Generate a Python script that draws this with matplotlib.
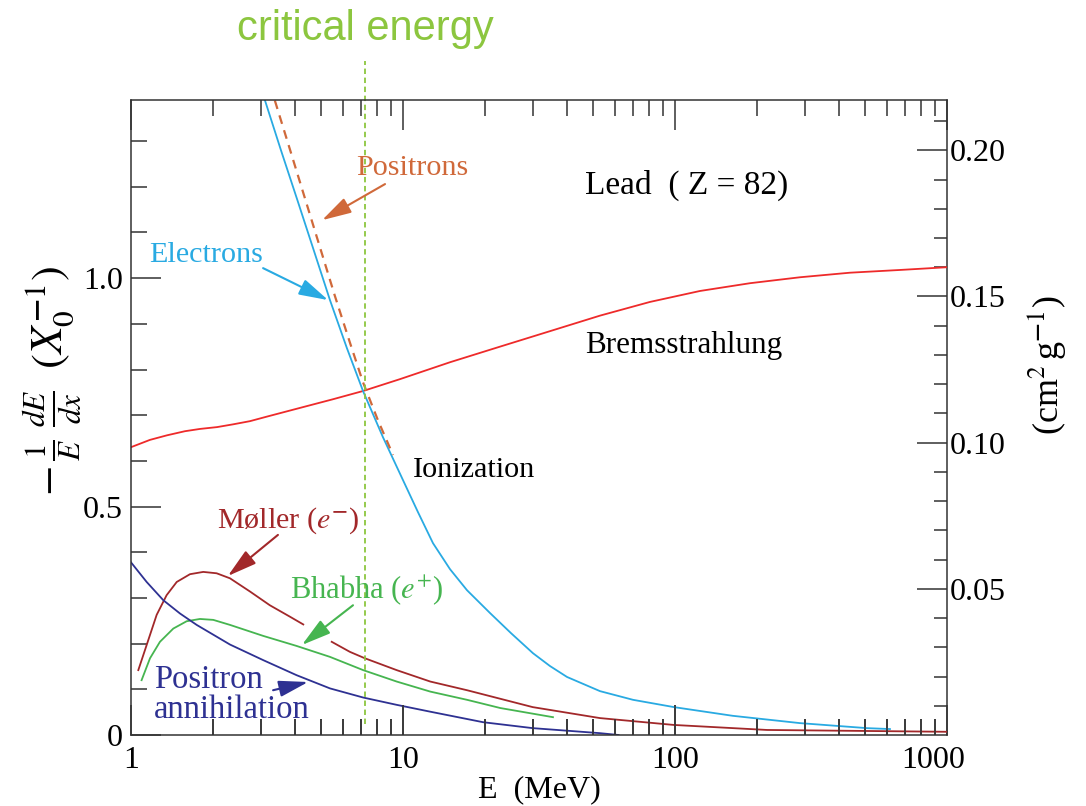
import numpy as np
import matplotlib
matplotlib.use("Agg")
import matplotlib.pyplot as plt
from matplotlib.ticker import LogLocator, NullFormatter, FixedLocator
import matplotlib.transforms as mtransforms

# ---------------- data ----------------
E_ion_e = [3.11, 3.56, 4.08, 4.67, 5.39, 6.22, 7.13, 8.44, 10.0, 11.35, 12.89, 14.89, 17.19,
           20.89, 24.95, 30.06, 34.7, 40.1, 53.0, 70.1, 99.2, 163.0, 288.0, 508.0, 617.0]
ion_e = [1.389, 1.280, 1.173, 1.066, 0.952, 0.847, 0.753, 0.652, 0.558, 0.488, 0.420, 0.363, 0.317,
         0.267, 0.223, 0.179, 0.151, 0.127, 0.096, 0.077, 0.061, 0.042, 0.026, 0.015, 0.013]

E_ion_p = [3.38, 3.84, 4.36, 4.95, 5.62, 6.39, 7.13, 8.09, 9.19]
ion_p = [1.389, 1.282, 1.175, 1.068, 0.961, 0.858, 0.772, 0.689, 0.613]

E_brems = [1.0, 1.174, 1.356, 1.579, 1.794, 2.072, 2.371, 2.738, 3.162, 4.18, 5.53, 7.13, 9.75,
           14.89, 22.7, 34.7, 53.0, 80.9, 123.6, 188.7, 288.0, 440.0, 672.0, 1000.0]
brems = [0.630, 0.646, 0.656, 0.665, 0.670, 0.674, 0.680, 0.687, 0.697, 0.716, 0.735, 0.753, 0.779,
         0.816, 0.850, 0.884, 0.918, 0.948, 0.972, 0.989, 1.002, 1.012, 1.018, 1.024]

E_moller = [1.064, 1.142, 1.243, 1.352, 1.473, 1.648, 1.844, 2.065, 2.312, 2.74, 3.24, 3.84, 4.30,
            4.9, 5.47, 6.38, 7.24, 9.48, 12.6, 17.2, 30.0, 53.0, 99.0, 218.0, 1000.0]
moller = [0.142, 0.197, 0.263, 0.306, 0.335, 0.352, 0.357, 0.354, 0.343, 0.314, 0.284, 0.259, 0.242,
          np.nan, 0.204, 0.182, 0.168, 0.142, 0.117, 0.098, 0.061, 0.037, 0.022, 0.011, 0.007]

E_bhabha = [1.094, 1.175, 1.278, 1.431, 1.602, 1.793, 2.007, 2.312, 3.06, 4.06, 5.39, 7.14, 9.48,
            12.6, 17.2, 22.8, 35.6]
bhabha = [0.120, 0.168, 0.204, 0.233, 0.249, 0.254, 0.252, 0.241, 0.217, 0.195, 0.171, 0.142, 0.117,
          0.095, 0.077, 0.059, 0.039]

E_annih = [1.0, 1.142, 1.315, 1.514, 1.744, 2.312, 3.06, 4.06, 5.39, 7.14, 9.48, 12.6, 19.7, 30.0,
           53.0, 62.0]
annih = [0.378, 0.335, 0.295, 0.266, 0.241, 0.198, 0.164, 0.131, 0.102, 0.082, 0.066, 0.051, 0.028,
         0.015, 0.004, 0.0]

E_critical = 7.25
X0_lead = 6.40  # g/cm^2, converts X0^-1 to cm^2 g^-1

x_ticks = [1, 10, 100, 1000]
x_ticklabels = ["1", "10", "100", "1000"]
yl_ticks = [0, 0.5, 1.0]
yl_ticklabels = ["0", "0.5", "1.0"]
yr_ticks = [0.05, 0.10, 0.15, 0.20]
yr_ticklabels = ["0.05", "0.10", "0.15", "0.20"]

# ---------------- style ----------------
plt.rcParams['font.family'] = ['Liberation Serif', 'DejaVu Serif']
plt.rcParams['mathtext.fontset'] = 'stix'

C_BLUE = '#29aae2'
C_RED = '#ee2a2a'
C_DRED = '#a2282a'
C_GREEN = '#46b550'
C_NAVY = '#2e3192'
C_ORANGE = '#d0693a'
C_CRIT = '#8cc63f'
C_AX = '#333333'

MAJ = 21.6   # 30 px
MIN = 11.5   # 16 px
MIN_R = 9.4  # 13 px
TW = 1.1

RECT = [0.1206, 0.0881, 0.7514, 0.7878]
fig = plt.figure(figsize=(10.86, 8.06), dpi=100)

# right-hand scale on its own overlay axes
ax2 = fig.add_axes(RECT)
ax2.patch.set_visible(False)
ax2.set_ylim(0, 1.39 / X0_lead)
ax2.xaxis.set_visible(False)
for k in ['left', 'top', 'bottom']:
    ax2.spines[k].set_visible(False)
ax2.spines['right'].set_linewidth(1.1)
ax2.spines['right'].set_color(C_AX)
ax2.yaxis.tick_right()
ax2.set_yticks(yr_ticks)
ax2.set_yticklabels(yr_ticklabels)
ax2.set_yticks(np.arange(0.01, 0.215, 0.01), minor=True)
ax2.tick_params(axis='y', which='major', direction='in', length=MAJ, width=TW,
                color=C_AX, labelsize=23, pad=2, left=False, right=True)
ax2.tick_params(axis='y', which='minor', direction='in', length=MIN_R, width=TW, color=C_AX,
                left=False, right=True)
ax2.set_ylabel(r"(cm$^{2}\,$g$^{\mathbf{-}1}$)", fontsize=26, rotation=90)
ax2.yaxis.set_label_position('right')
ax2.yaxis.set_label_coords(0.944, 0.547, transform=fig.transFigure)

# main axes
ax = fig.add_axes(RECT)
ax.patch.set_visible(False)
ax.set_xscale('log')
ax.set_xlim(1, 1000)
ax.set_ylim(0, 1.39)

lw = 1.3
ax.plot(E_brems, brems, color=C_RED, lw=lw)
ax.plot(E_ion_e, ion_e, color=C_BLUE, lw=lw)
ax.plot(E_ion_p, ion_p, color=C_ORANGE, lw=1.6, ls=(0, (4, 3)))
ax.plot(E_moller, moller, color=C_DRED, lw=lw)
ax.plot(E_bhabha, bhabha, color=C_GREEN, lw=lw)
ax.plot(E_annih, annih, color=C_NAVY, lw=lw)

# critical energy line (extends above the axes)
ax.plot([E_critical, E_critical], [0.025, 1.475], color=C_CRIT, lw=1.3,
        ls=(0, (3, 2)), clip_on=False)
ax.text(E_critical, 1.545, "critical energy", color=C_CRIT, fontsize=30,
        family='Liberation Sans', ha='center', va='center', clip_on=False)

ax.set_xlabel("E  (MeV)", fontsize=23, labelpad=0)
ax.set_ylabel(r"$-\,\frac{1}{E}\;\frac{dE}{dx}\;\;(X_0^{\mathbf{-}1})$", fontsize=32)
ax.yaxis.set_label_coords(-0.058, 0.557)

# labels
ax.text(46.7, 1.203, "Lead  ( Z = 82)", fontsize=24, va='center', ha='left')
ax.text(46.7, 0.853, "Bremsstrahlung", fontsize=22.4, va='center', ha='left')
ax.text(10.9, 0.580, "Ionization", fontsize=21.7, va='center', ha='left')

fs2 = 21.7
aprops = dict(arrowstyle='-|>,head_length=0.9,head_width=0.25', lw=1.5, shrinkA=0, shrinkB=0)
ax.text(10.8, 1.241, "Positrons", fontsize=fs2, color=C_ORANGE, ha='center', va='center')
ax.annotate("", xy=(5.04, 1.127), xytext=(8.59, 1.206),
            arrowprops=dict(aprops, color=C_ORANGE, mutation_scale=20))
ax.text(1.886, 1.050, "Electrons", fontsize=fs2, color=C_BLUE, ha='center', va='center')
ax.annotate("", xy=(5.31, 0.952), xytext=(3.06, 1.022),
            arrowprops=dict(aprops, color=C_BLUE, mutation_scale=20))
ax.text(2.07, 0.470, r"Møller ($e^{\mathbf{-}}$)", fontsize=fs2, color=C_DRED, ha='left', va='center')
ax.annotate("", xy=(2.27, 0.348), xytext=(3.47, 0.438),
            arrowprops=dict(aprops, color=C_DRED, mutation_scale=20))
ax.text(3.84, 0.317, r"Bhabha ($e^{+}$)", fontsize=22, color=C_GREEN, ha='left', va='center')
ax.annotate("", xy=(4.25, 0.197), xytext=(6.55, 0.284),
            arrowprops=dict(aprops, color=C_GREEN, mutation_scale=20))
ax.text(1.215, 0.088, "Positron\nannihilation", fontsize=23.5, color=C_NAVY, ha='left',
        va='center', linespacing=1.0)
ax.annotate("", xy=(4.48, 0.116), xytext=(3.33, 0.098),
            arrowprops=dict(aprops, color=C_NAVY, mutation_scale=20))

# ticks (configured last)
ax.spines['right'].set_visible(False)
for k in ['left', 'top', 'bottom']:
    ax.spines[k].set_linewidth(1.1)
    ax.spines[k].set_color(C_AX)
ax.xaxis.set_major_locator(FixedLocator(x_ticks))
ax.set_xticklabels(x_ticklabels)
ax.xaxis.set_minor_locator(LogLocator(base=10, subs=np.arange(2, 10), numticks=20))
ax.xaxis.set_minor_formatter(NullFormatter())
ax.set_yticks(yl_ticks)
ax.set_yticklabels(yl_ticklabels)
ax.set_yticks(np.arange(0, 1.39, 0.1), minor=True)
ax.xaxis.set_ticks_position('both')
ax.yaxis.set_ticks_position('left')
ax.tick_params(axis='both', which='major', direction='in', length=MAJ, width=TW,
               color=C_AX, labelsize=23, pad=6)
ax.tick_params(axis='both', which='minor', direction='in', length=MIN, width=TW, color=C_AX)
ax.tick_params(axis='x', which='major', pad=8, labelbottom=True, labeltop=False)

# shift the "1000" label slightly left as in the reference
lab = ax.get_xticklabels()[-1]
lab.set_transform(lab.get_transform() + mtransforms.ScaledTranslation(-0.14, 0, fig.dpi_scale_trans))

# inward bottom x ticks drawn explicitly on the axis (x in data, y in axes fraction)
axis_h_px = RECT[3] * 806
maj_frac = 30.0 / axis_h_px
min_frac = 16.0 / axis_h_px
xt = ax.get_xaxis_transform()
minor_locs = [v for v in ax.xaxis.get_minorticklocs() if 1 < v < 1000]
ax.vlines(x_ticks[1:-1], 0, maj_frac, transform=xt, colors=C_AX, lw=TW, clip_on=False, zorder=3)
ax.vlines(minor_locs, 0, min_frac, transform=xt, colors=C_AX, lw=TW, clip_on=False, zorder=3)

fig.savefig("out.png", dpi=100)
